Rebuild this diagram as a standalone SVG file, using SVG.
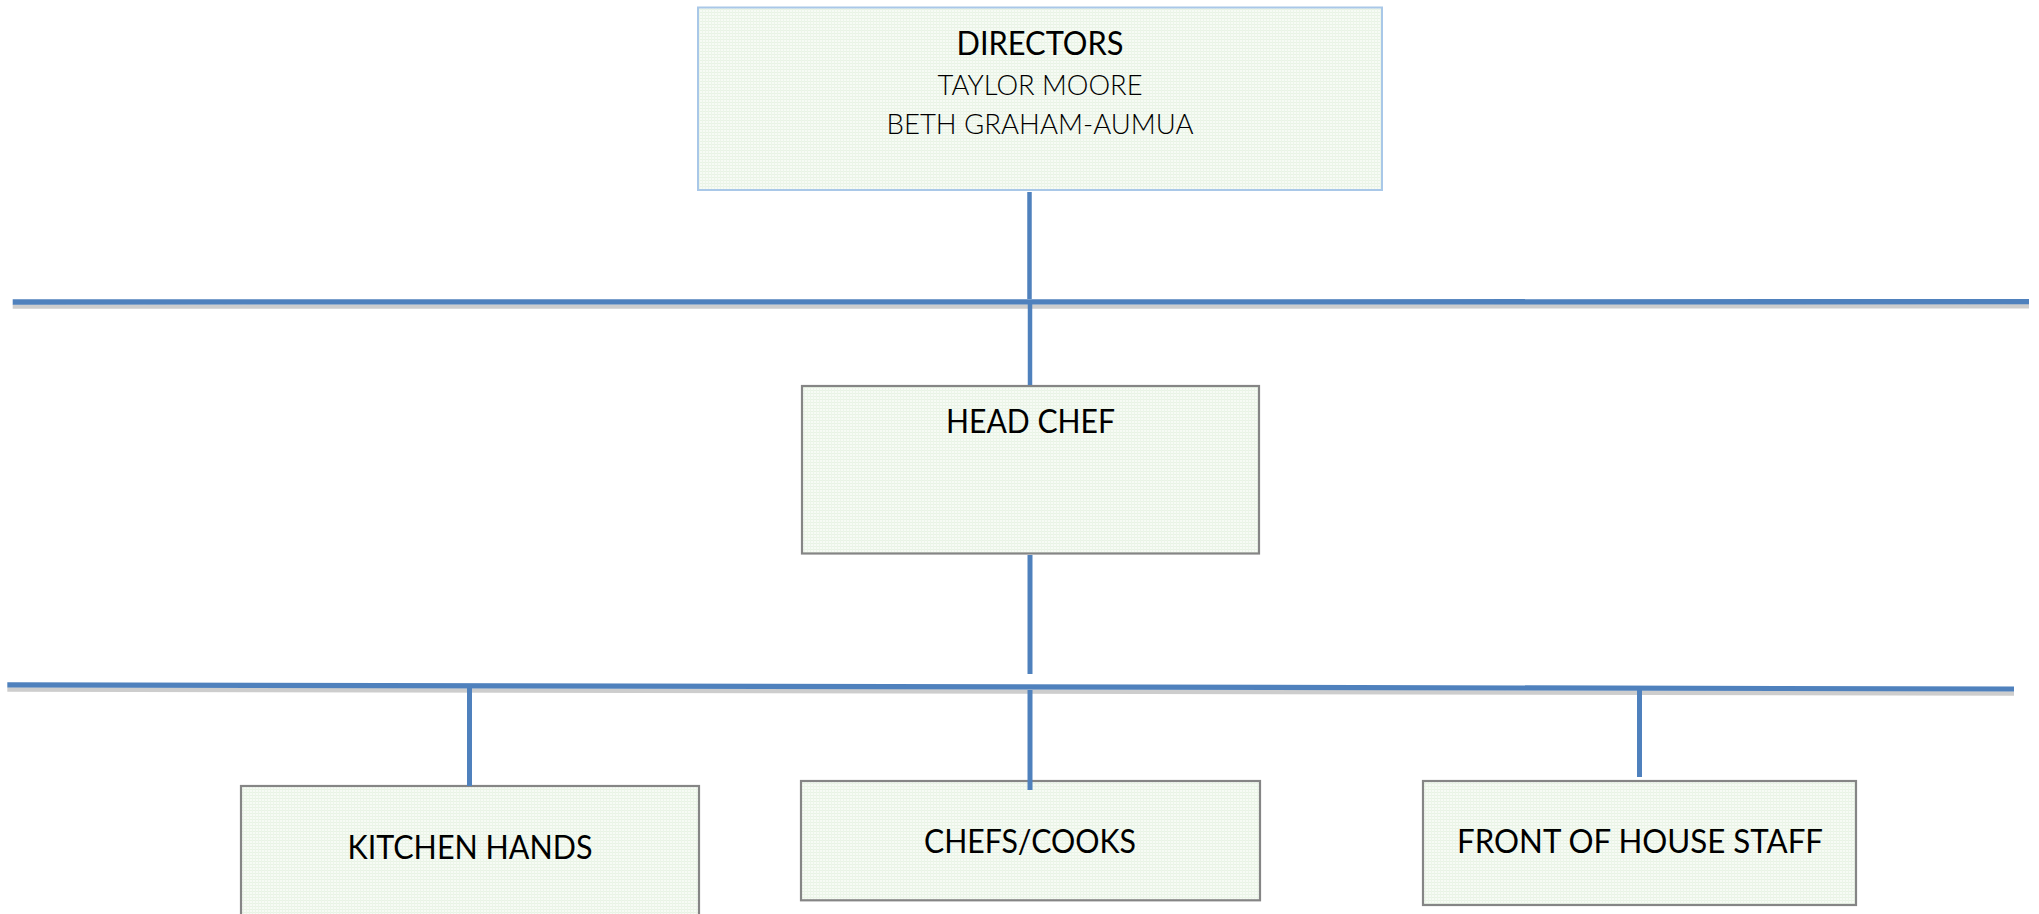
<svg xmlns="http://www.w3.org/2000/svg" width="2039" height="914" viewBox="0 0 2039 914">
<style>
.box{fill:url(#grid);stroke:#858585;stroke-width:2.2}
.boxd{fill:url(#grid);stroke:#a9c8e8;stroke-width:2}
.t{font-family:Lato,"Open Sans","Liberation Sans",sans-serif;fill:#000;text-anchor:middle}
.big{font-size:33px}
.sm{font-size:28px;font-weight:300}
.conn{stroke:#4f81bd;fill:none}
.shadow{stroke:#cdcdcd;fill:none}
</style>
<defs>
<pattern id="grid" width="3" height="3" patternUnits="userSpaceOnUse">
<rect width="3" height="3" fill="#f7fbf5"/>
<rect width="3" height="1" fill="#e8f3e4"/>
<rect width="1" height="3" fill="#ecf5e9"/>
</pattern>
</defs>
<rect width="2039" height="914" fill="#fff"/>
<g id="directors">
<rect class="boxd" x="698" y="7.5" width="684" height="182.5"/>
<text class="t big" x="1040" y="55" textLength="167" lengthAdjust="spacingAndGlyphs">DIRECTORS</text>
<text class="t sm" x="1040" y="95" textLength="205" lengthAdjust="spacingAndGlyphs">TAYLOR MOORE</text>
<text class="t sm" x="1040" y="134.3" textLength="307" lengthAdjust="spacingAndGlyphs">BETH GRAHAM-AUMUA</text>
</g>
<g id="head-chef">
<rect class="box" x="802" y="386" width="457" height="167.5"/>
<text class="t big" x="1030.5" y="432.7" textLength="169" lengthAdjust="spacingAndGlyphs">HEAD CHEF</text>
</g>
<g id="kitchen-hands">
<rect class="box" x="241" y="786" width="458" height="140"/>
<text class="t big" x="470" y="859" textLength="245" lengthAdjust="spacingAndGlyphs">KITCHEN HANDS</text>
</g>
<g id="chefs-cooks">
<rect class="box" x="801" y="781" width="459" height="119.3"/>
<text class="t big" x="1030" y="853.3" textLength="212" lengthAdjust="spacingAndGlyphs">CHEFS/COOKS</text>
</g>
<g id="front-of-house">
<rect class="box" x="1423" y="781" width="433" height="124"/>
<text class="t big" x="1640" y="853.3" textLength="366" lengthAdjust="spacingAndGlyphs">FRONT OF HOUSE STAFF</text>
</g>
<g id="connectors">
<line class="shadow" x1="12.7" y1="306.5" x2="2029" y2="306.3" stroke-width="4.5"/>
<line class="conn" x1="12.7" y1="302" x2="2029" y2="301.7" stroke-width="5.3"/>
<line class="shadow" x1="7.3" y1="689.5" x2="2014" y2="693.6" stroke-width="4.5"/>
<line class="conn" x1="7.3" y1="684.8" x2="2014" y2="689" stroke-width="5.2"/>
<line class="conn" x1="1029.5" y1="192" x2="1029.5" y2="299" stroke-width="4.5"/>
<line class="conn" x1="1030" y1="304" x2="1030" y2="385" stroke-width="4.5"/>
<line class="conn" x1="1030" y1="555" x2="1030" y2="674" stroke-width="5"/>
<line class="conn" x1="469.5" y1="688" x2="469.5" y2="786" stroke-width="5"/>
<line class="conn" x1="1030" y1="690" x2="1030" y2="790" stroke-width="5"/>
<line class="conn" x1="1639.5" y1="690" x2="1639.5" y2="777" stroke-width="5"/>
</g>
</svg>
